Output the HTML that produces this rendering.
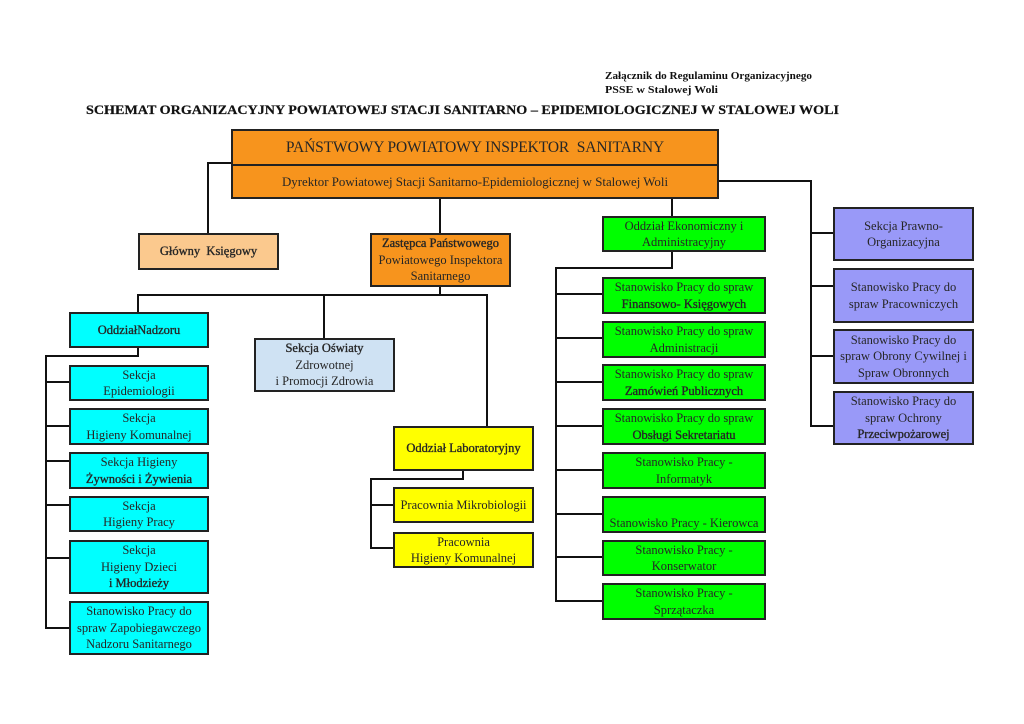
<!DOCTYPE html>
<html><head><meta charset="utf-8">
<style>
html,body{margin:0;padding:0;background:#fff;}
body{width:1024px;height:724px;position:relative;overflow:hidden;font-family:"Liberation Serif",serif;}
.b{position:absolute;box-sizing:border-box;border:2px solid #222;display:flex;align-items:center;justify-content:center;text-align:center;font-size:12.5px;line-height:16.5px;color:#262626;}
.o{background:#f7941d;}
.lo{background:#fbc98e;}
.c{background:#00ffff;}
.y{background:#ffff00;}
.g{background:#00ff00;}
.p{background:#9999f8;}
.lb{background:#cfe2f3;}
.s{-webkit-text-stroke:0.35px #262626;}
svg{position:absolute;left:0;top:0;}
</style></head><body>
<svg width="1024" height="724" viewBox="0 0 1024 724">
<g font-family="Liberation Serif, serif" font-weight="bold" fill="#111">
<text x="605" y="79" font-size="10.5" textLength="207" lengthAdjust="spacingAndGlyphs">Załącznik do Regulaminu Organizacyjnego</text>
<text x="605" y="93" font-size="10.5" textLength="113" lengthAdjust="spacingAndGlyphs">PSSE  w Stalowej Woli</text>
<text x="86" y="114" font-size="12.5" textLength="753" lengthAdjust="spacingAndGlyphs" stroke="#111" stroke-width="0.2">SCHEMAT ORGANIZACYJNY  POWIATOWEJ STACJI SANITARNO – EPIDEMIOLOGICZNEJ W STALOWEJ WOLI</text>
</g>
<g stroke="#111" stroke-width="2" fill="none">
<path d="M231,163 H208 V233"/>
<path d="M440,198 V233"/>
<path d="M440,286 V295"/>
<path d="M138,312 V295 H487 V426"/>
<path d="M324,295 V338"/>
<path d="M138,347 V356 H46 V628 H69"/>
<path d="M46,382 H69 M46,426 H69 M46,461 H69 M46,505 H69 M46,558 H69"/>
<path d="M463,470 V479 H371 V548 H393 M371,505 H393"/>
<path d="M718,181 H811 V426 H833 M811,233 H833 M811,286 H833 M811,356 H833"/>
<path d="M672,198 V216 M672,251 V268 H556 V601 H602"/>
<path d="M556,294 H602 M556,338 H602 M556,382 H602 M556,426 H602 M556,470 H602 M556,514 H602 M556,557 H602"/>
</g>
</svg>

<!-- top -->
<div class="b o" style="left:231px;top:129px;width:488px;height:70px;display:block;">
  <div style="height:33px;border-bottom:2px solid #222;font-size:15.5px;line-height:33px;letter-spacing:-0.1px;">PAŃSTWOWY POWIATOWY INSPEKTOR&nbsp; SANITARNY</div>
  <div style="height:33px;line-height:33px;font-size:12.9px;">Dyrektor Powiatowej Stacji Sanitarno-Epidemiologicznej w Stalowej Woli</div>
</div>

<div class="b lo s" style="left:138px;top:233px;width:141px;height:37px;">Główny&nbsp; Księgowy</div>
<div class="b o" style="left:370px;top:233px;width:141px;height:54px;"><div><span class="s">Zastępca Państwowego</span><br>Powiatowego Inspektora<br>Sanitarnego</div></div>

<div class="b c s" style="left:69px;top:312px;width:140px;height:36px;">OddziałNadzoru</div>
<div class="b lb" style="left:254px;top:338px;width:141px;height:54px;"><div><span class="s">Sekcja Oświaty</span><br>Zdrowotnej<br>i Promocji Zdrowia</div></div>

<div class="b c" style="left:69px;top:365px;width:140px;height:36px;">Sekcja<br>Epidemiologii</div>
<div class="b c" style="left:69px;top:408px;width:140px;height:37px;">Sekcja<br>Higieny Komunalnej</div>
<div class="b c" style="left:69px;top:452px;width:140px;height:37px;"><div>Sekcja Higieny<br><span class="s">Żywności i Żywienia</span></div></div>
<div class="b c" style="left:69px;top:496px;width:140px;height:36px;">Sekcja<br>Higieny Pracy</div>
<div class="b c" style="left:69px;top:540px;width:140px;height:54px;"><div>Sekcja<br>Higieny Dzieci<br><span class="s">i Młodzieży</span></div></div>
<div class="b c" style="left:69px;top:601px;width:140px;height:54px;">Stanowisko Pracy do<br>spraw Zapobiegawczego<br>Nadzoru Sanitarnego</div>

<div class="b y s" style="left:393px;top:426px;width:141px;height:45px;">Oddział Laboratoryjny</div>
<div class="b y" style="left:393px;top:487px;width:141px;height:36px;">Pracownia Mikrobiologii</div>
<div class="b y" style="left:393px;top:532px;width:141px;height:36px;">Pracownia<br>Higieny Komunalnej</div>

<div class="b g" style="left:602px;top:216px;width:164px;height:36px;">Oddział Ekonomiczny i<br>Administracyjny</div>
<div class="b g" style="left:602px;top:277px;width:164px;height:37px;"><div>Stanowisko Pracy do spraw<br><span class="s">Finansowo- Księgowych</span></div></div>
<div class="b g" style="left:602px;top:321px;width:164px;height:37px;">Stanowisko Pracy do spraw<br>Administracji</div>
<div class="b g" style="left:602px;top:364px;width:164px;height:37px;"><div>Stanowisko Pracy do spraw<br><span class="s">Zamówień Publicznych</span></div></div>
<div class="b g" style="left:602px;top:408px;width:164px;height:37px;"><div>Stanowisko Pracy do spraw<br><span class="s">Obsługi Sekretariatu</span></div></div>
<div class="b g" style="left:602px;top:452px;width:164px;height:37px;">Stanowisko Pracy -<br>Informatyk</div>
<div class="b g" style="left:602px;top:496px;width:164px;height:37px;"><div><br>Stanowisko Pracy - Kierowca</div></div>
<div class="b g" style="left:602px;top:540px;width:164px;height:36px;">Stanowisko Pracy -<br>Konserwator</div>
<div class="b g" style="left:602px;top:583px;width:164px;height:37px;">Stanowisko Pracy -<br>Sprzątaczka</div>

<div class="b p" style="left:833px;top:207px;width:141px;height:54px;">Sekcja Prawno-<br>Organizacyjna</div>
<div class="b p" style="left:833px;top:268px;width:141px;height:55px;">Stanowisko Pracy do<br>spraw Pracowniczych</div>
<div class="b p" style="left:833px;top:329px;width:141px;height:55px;">Stanowisko Pracy do<br>spraw Obrony Cywilnej i<br>Spraw Obronnych</div>
<div class="b p" style="left:833px;top:391px;width:141px;height:54px;"><div>Stanowisko Pracy do<br>spraw Ochrony<br><span class="s">Przeciwpożarowej</span></div></div>
</body></html>
